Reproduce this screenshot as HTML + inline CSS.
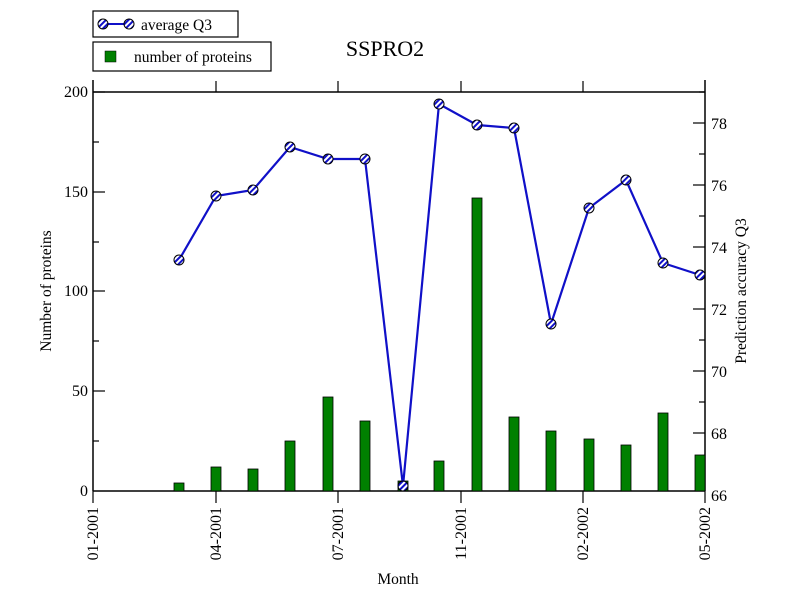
<!DOCTYPE html>
<html><head><style>body{margin:0;background:#fff}svg{display:block}text{font-family:"Liberation Serif",serif;fill:#000}</style></head>
<body>
<svg width="792" height="612" viewBox="0 0 792 612" xmlns="http://www.w3.org/2000/svg">
<defs>
<pattern id="h" patternUnits="userSpaceOnUse" width="4" height="4" patternTransform="rotate(45)">
<rect width="4" height="4" fill="#fff"/><rect width="2" height="4" fill="#1010c8"/></pattern>
</defs>
<rect width="792" height="612" fill="#fff"/>
<rect x="93" y="11" width="145" height="26" fill="#fff" stroke="#000" stroke-width="1.2"/>
<line x1="103" y1="24" x2="129" y2="24" stroke="#1010c8" stroke-width="2"/>
<circle cx="103" cy="24" r="5" fill="url(#h)" stroke="#000"/>
<circle cx="129" cy="24" r="5" fill="url(#h)" stroke="#000"/>
<text x="141" y="30" font-size="15.5">average Q3</text>
<rect x="93" y="42" width="178" height="29" fill="#fff" stroke="#000" stroke-width="1.2"/>
<rect x="105" y="51" width="11" height="11" fill="#008000" stroke="#000" stroke-width="0.5"/>
<text x="134" y="62" font-size="15.5">number of proteins</text>
<text x="385" y="56" font-size="22" text-anchor="middle">SSPRO2</text>
<g stroke="#000" stroke-width="1.5" fill="none">
<line x1="93" y1="80" x2="93" y2="491"/>
<line x1="705" y1="80" x2="705" y2="491"/>
<line x1="93" y1="92" x2="705" y2="92"/>
<line x1="93" y1="491" x2="705" y2="491"/>
</g>
<g stroke="#000" stroke-width="1.2">
<line x1="93" y1="92" x2="105" y2="92"/><line x1="93" y1="142" x2="99" y2="142"/>
<line x1="93" y1="192" x2="105" y2="192"/><line x1="93" y1="242" x2="99" y2="242"/>
<line x1="93" y1="291" x2="105" y2="291"/><line x1="93" y1="341" x2="99" y2="341"/>
<line x1="93" y1="391" x2="105" y2="391"/><line x1="93" y1="441" x2="99" y2="441"/>
<line x1="705" y1="92" x2="699" y2="92"/>
<line x1="705" y1="123" x2="693" y2="123"/><line x1="705" y1="154" x2="699" y2="154"/>
<line x1="705" y1="185" x2="693" y2="185"/><line x1="705" y1="216" x2="699" y2="216"/>
<line x1="705" y1="247" x2="693" y2="247"/><line x1="705" y1="278" x2="699" y2="278"/>
<line x1="705" y1="309" x2="693" y2="309"/><line x1="705" y1="340" x2="699" y2="340"/>
<line x1="705" y1="371" x2="693" y2="371"/><line x1="705" y1="402" x2="699" y2="402"/>
<line x1="705" y1="433" x2="693" y2="433"/><line x1="705" y1="464" x2="699" y2="464"/>
<line x1="93" y1="491" x2="93" y2="503"/><line x1="216" y1="491" x2="216" y2="503"/>
<line x1="338" y1="491" x2="338" y2="503"/><line x1="461" y1="491" x2="461" y2="503"/>
<line x1="583" y1="491" x2="583" y2="503"/><line x1="705" y1="491" x2="705" y2="503"/>
<line x1="216" y1="92" x2="216" y2="81"/><line x1="338" y1="92" x2="338" y2="81"/>
<line x1="461" y1="92" x2="461" y2="81"/><line x1="583" y1="92" x2="583" y2="81"/>
</g>
<g font-size="16" text-anchor="end">
<text x="88" y="97">200</text><text x="88" y="197">150</text><text x="88" y="296">100</text>
<text x="88" y="396">50</text><text x="88" y="496">0</text>
</g>
<g font-size="16">
<text x="711" y="129">78</text><text x="711" y="191">76</text><text x="711" y="253">74</text>
<text x="711" y="315">72</text><text x="711" y="377">70</text><text x="711" y="439">68</text>
<text x="711" y="501">66</text>
</g>
<g font-size="16" text-anchor="end">
<text transform="translate(98,507) rotate(-90)">01-2001</text>
<text transform="translate(221,507) rotate(-90)">04-2001</text>
<text transform="translate(343,507) rotate(-90)">07-2001</text>
<text transform="translate(466,507) rotate(-90)">11-2001</text>
<text transform="translate(588,507) rotate(-90)">02-2002</text>
<text transform="translate(710,507) rotate(-90)">05-2002</text>
</g>
<text x="398" y="584" font-size="15.5" text-anchor="middle">Month</text>
<text transform="translate(51,291) rotate(-90)" font-size="15.5" text-anchor="middle">Number of proteins</text>
<text transform="translate(746,291) rotate(-90)" font-size="15.5" text-anchor="middle">Prediction accuracy Q3</text>
<g fill="#008000" stroke="#000" stroke-width="0.8">
<rect x="174" y="483" width="10" height="8"/>
<rect x="211" y="467" width="10" height="24"/>
<rect x="248" y="469" width="10" height="22"/>
<rect x="285" y="441" width="10" height="50"/>
<rect x="323" y="397" width="10" height="94"/>
<rect x="360" y="421" width="10" height="70"/>
<rect x="398" y="481" width="10" height="10"/>
<rect x="434" y="461" width="10" height="30"/>
<rect x="472" y="198" width="10" height="293"/>
<rect x="509" y="417" width="10" height="74"/>
<rect x="546" y="431" width="10" height="60"/>
<rect x="584" y="439" width="10" height="52"/>
<rect x="621" y="445" width="10" height="46"/>
<rect x="658" y="413" width="10" height="78"/>
<rect x="695" y="455" width="10" height="36"/>
</g>
<polyline fill="none" stroke="#1010c8" stroke-width="2.2" points="179,260 216,196 253,190 290,147 328,159 365,159 403,486 439,104 477,125 514,128 551,324 589,208 626,180 663,263 700,275"/>
<g fill="url(#h)" stroke="#000" stroke-width="1">
<circle cx="179" cy="260" r="5"/><circle cx="216" cy="196" r="5"/><circle cx="253" cy="190" r="5"/>
<circle cx="290" cy="147" r="5"/><circle cx="328" cy="159" r="5"/><circle cx="365" cy="159" r="5"/>
<circle cx="403" cy="486" r="5"/><circle cx="439" cy="104" r="5"/><circle cx="477" cy="125" r="5"/>
<circle cx="514" cy="128" r="5"/><circle cx="551" cy="324" r="5"/><circle cx="589" cy="208" r="5"/>
<circle cx="626" cy="180" r="5"/><circle cx="663" cy="263" r="5"/><circle cx="700" cy="275" r="5"/>
</g>
</svg>
</body></html>
